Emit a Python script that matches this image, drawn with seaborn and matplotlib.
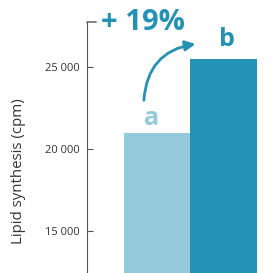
import matplotlib
matplotlib.use("Agg")
import matplotlib.pyplot as plt
import pandas as pd
import seaborn as sns

# Data
GROUPS = ["a", "b"]
SYNTHESIS = [20980, 25480]
TICKS = [15000, 20000, 25000]
TICK_LABELS = ["15 000", "20 000", "25 000"]
INCREASE_LABEL = "+ 19%"
YLABEL = "Lipid synthesis (cpm)"

LIGHT = "#95c9dc"
DARK = "#2591b5"
YMIN, YMAX = 12440, 27740


def main():
    sns.set_style("white")
    plt.rcParams["font.family"] = ["Open Sans", "DejaVu Sans"]

    fig = plt.figure(figsize=(2.71, 2.73), dpi=100)
    ax = fig.add_axes([87 / 271, 0, 184 / 271, 251 / 273])

    df = pd.DataFrame({"group": GROUPS, "value": SYNTHESIS})
    sns.barplot(data=df, x="group", y="value", hue="group",
                palette=[LIGHT, DARK], width=1.0, legend=False,
                saturation=1, linewidth=0, ax=ax)

    ax.set_xlim(-1.053, 1.714)
    ax.set_ylim(YMIN, YMAX)
    ax.set_xticks([])
    ax.set_xlabel("")
    ax.set_yticks(TICKS)
    ax.set_yticklabels(TICK_LABELS)
    ax.tick_params(axis="y", which="major", direction="in", length=4,
                   width=0.8, color="#555555", pad=5, labelsize=8,
                   labelcolor="#333333", left=True)
    for side in ["top", "right", "bottom"]:
        ax.spines[side].set_visible(False)
    ax.spines["left"].set_color("#555555")
    ax.spines["left"].set_linewidth(0.8)
    # cap at the top of the axis
    ax.axhline(YMAX, xmin=0, xmax=9 / 184, color="#777777", lw=1.3,
               clip_on=False)
    ax.set_ylabel(YLABEL, fontsize=10.8, color="#333333")
    ax.yaxis.set_label_coords(-61 / 184, (273 - 171) / 251)

    ax.text(-0.218, 27690, INCREASE_LABEL, ha="center", va="center",
            fontsize=21, fontweight="bold", color=DARK)
    ax.text(-0.075, 21830, GROUPS[0], ha="center", va="center",
            fontsize=18, fontweight="bold", color=LIGHT)
    ax.text(1.045, 26680, GROUPS[1], ha="center", va="center",
            fontsize=18, fontweight="bold", color=DARK)
    ax.annotate("", xy=(0.62, 26420), xytext=(-0.2, 22800),
                arrowprops=dict(arrowstyle="-|>,head_length=0.6,head_width=0.3",
                                color=DARK, lw=2.0,
                                connectionstyle="arc3,rad=-0.42"))

    fig.savefig("out.png", dpi=100)


if __name__ == "__main__":
    main()
